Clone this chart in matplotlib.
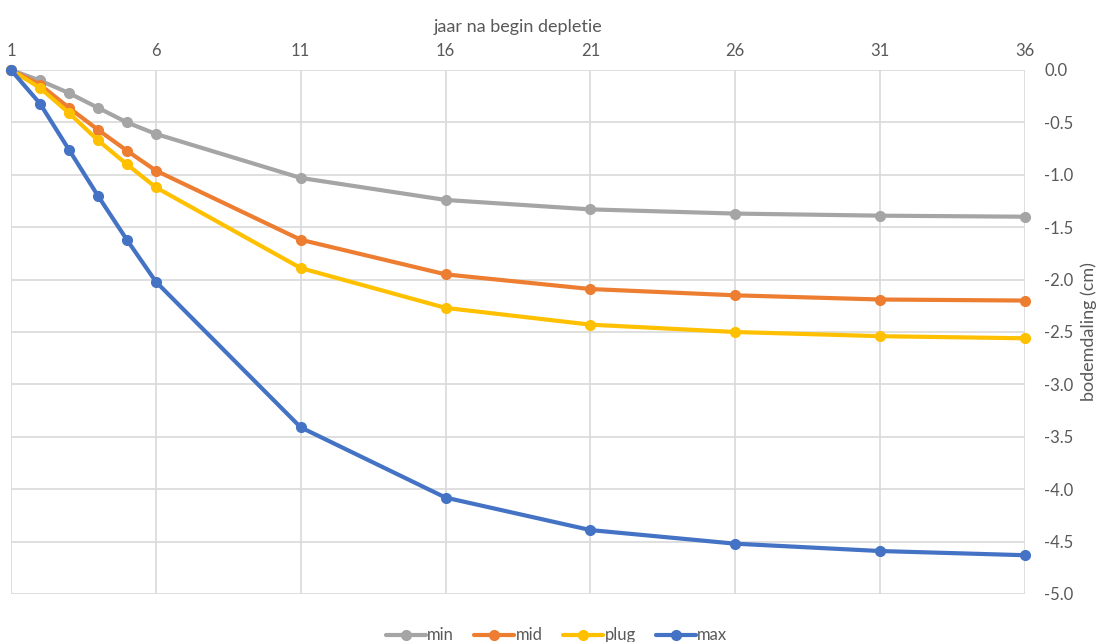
import numpy as np
import matplotlib
matplotlib.use("Agg")
import matplotlib.pyplot as plt

plt.rcParams['font.family'] = ['Lato', 'DejaVu Sans']
plt.rcParams['axes.unicode_minus'] = False

jaar = [1, 2, 3, 4, 5, 6, 11, 16, 21, 26, 31, 36]
dal_min = [0.0, -0.10, -0.22, -0.36, -0.50, -0.61, -1.03, -1.24, -1.33, -1.37, -1.39, -1.40]
dal_mid = [0.0, -0.14, -0.36, -0.57, -0.77, -0.96, -1.62, -1.95, -2.09, -2.15, -2.19, -2.20]
dal_plug = [0.0, -0.17, -0.41, -0.67, -0.90, -1.12, -1.89, -2.27, -2.43, -2.50, -2.54, -2.56]
dal_max = [0.0, -0.32, -0.76, -1.20, -1.62, -2.02, -3.41, -4.08, -4.39, -4.52, -4.59, -4.63]

xticks = [1, 6, 11, 16, 21, 26, 31, 36]
yticks = np.arange(0, -5.01, -0.5)

series = [("min", dal_min, "#A5A5A5"),
          ("mid", dal_mid, "#ED7D31"),
          ("plug", dal_plug, "#FFC000"),
          ("max", dal_max, "#4472C4")]

txt = "#595959"
fig = plt.figure(figsize=(11.01, 6.42), dpi=100)
ax = fig.add_axes([11/1101, 1 - 594/642, (1025 - 11)/1101, (594 - 70)/642])

for naam, y, kleur in series:
    ax.plot(jaar, y, color=kleur, lw=3, marker="o", ms=7, label=naam,
            solid_capstyle="round", clip_on=False, zorder=3)

ax.set_xlim(1, 36)
ax.set_ylim(-5, 0)
ax.set_xticks(xticks)
ax.set_yticks(yticks)
ax.set_yticklabels(["%.1f" % v for v in yticks])
ax.xaxis.tick_top()
ax.xaxis.set_label_position("top")
ax.yaxis.tick_right()
ax.yaxis.set_label_position("right")
ax.tick_params(length=0, labelsize=12, colors=txt, pad=8)
ax.tick_params(axis="y", pad=14)
ax.set_xlabel("jaar na begin depletie", fontsize=13, color=txt, labelpad=8)
ax.set_ylabel("bodemdaling (cm)", fontsize=13, color=txt, labelpad=5)
ax.grid(True, color="#D9D9D9", lw=1.2)
ax.set_axisbelow(True)
for s in ax.spines.values():
    s.set_visible(False)

ax.legend(loc="upper center", bbox_to_anchor=(0.538, -0.035), ncol=4, frameon=False,
          fontsize=12, labelcolor=txt, handlelength=2.4, columnspacing=1.2,
          handletextpad=0.1)

fig.savefig("out.png", dpi=100)
